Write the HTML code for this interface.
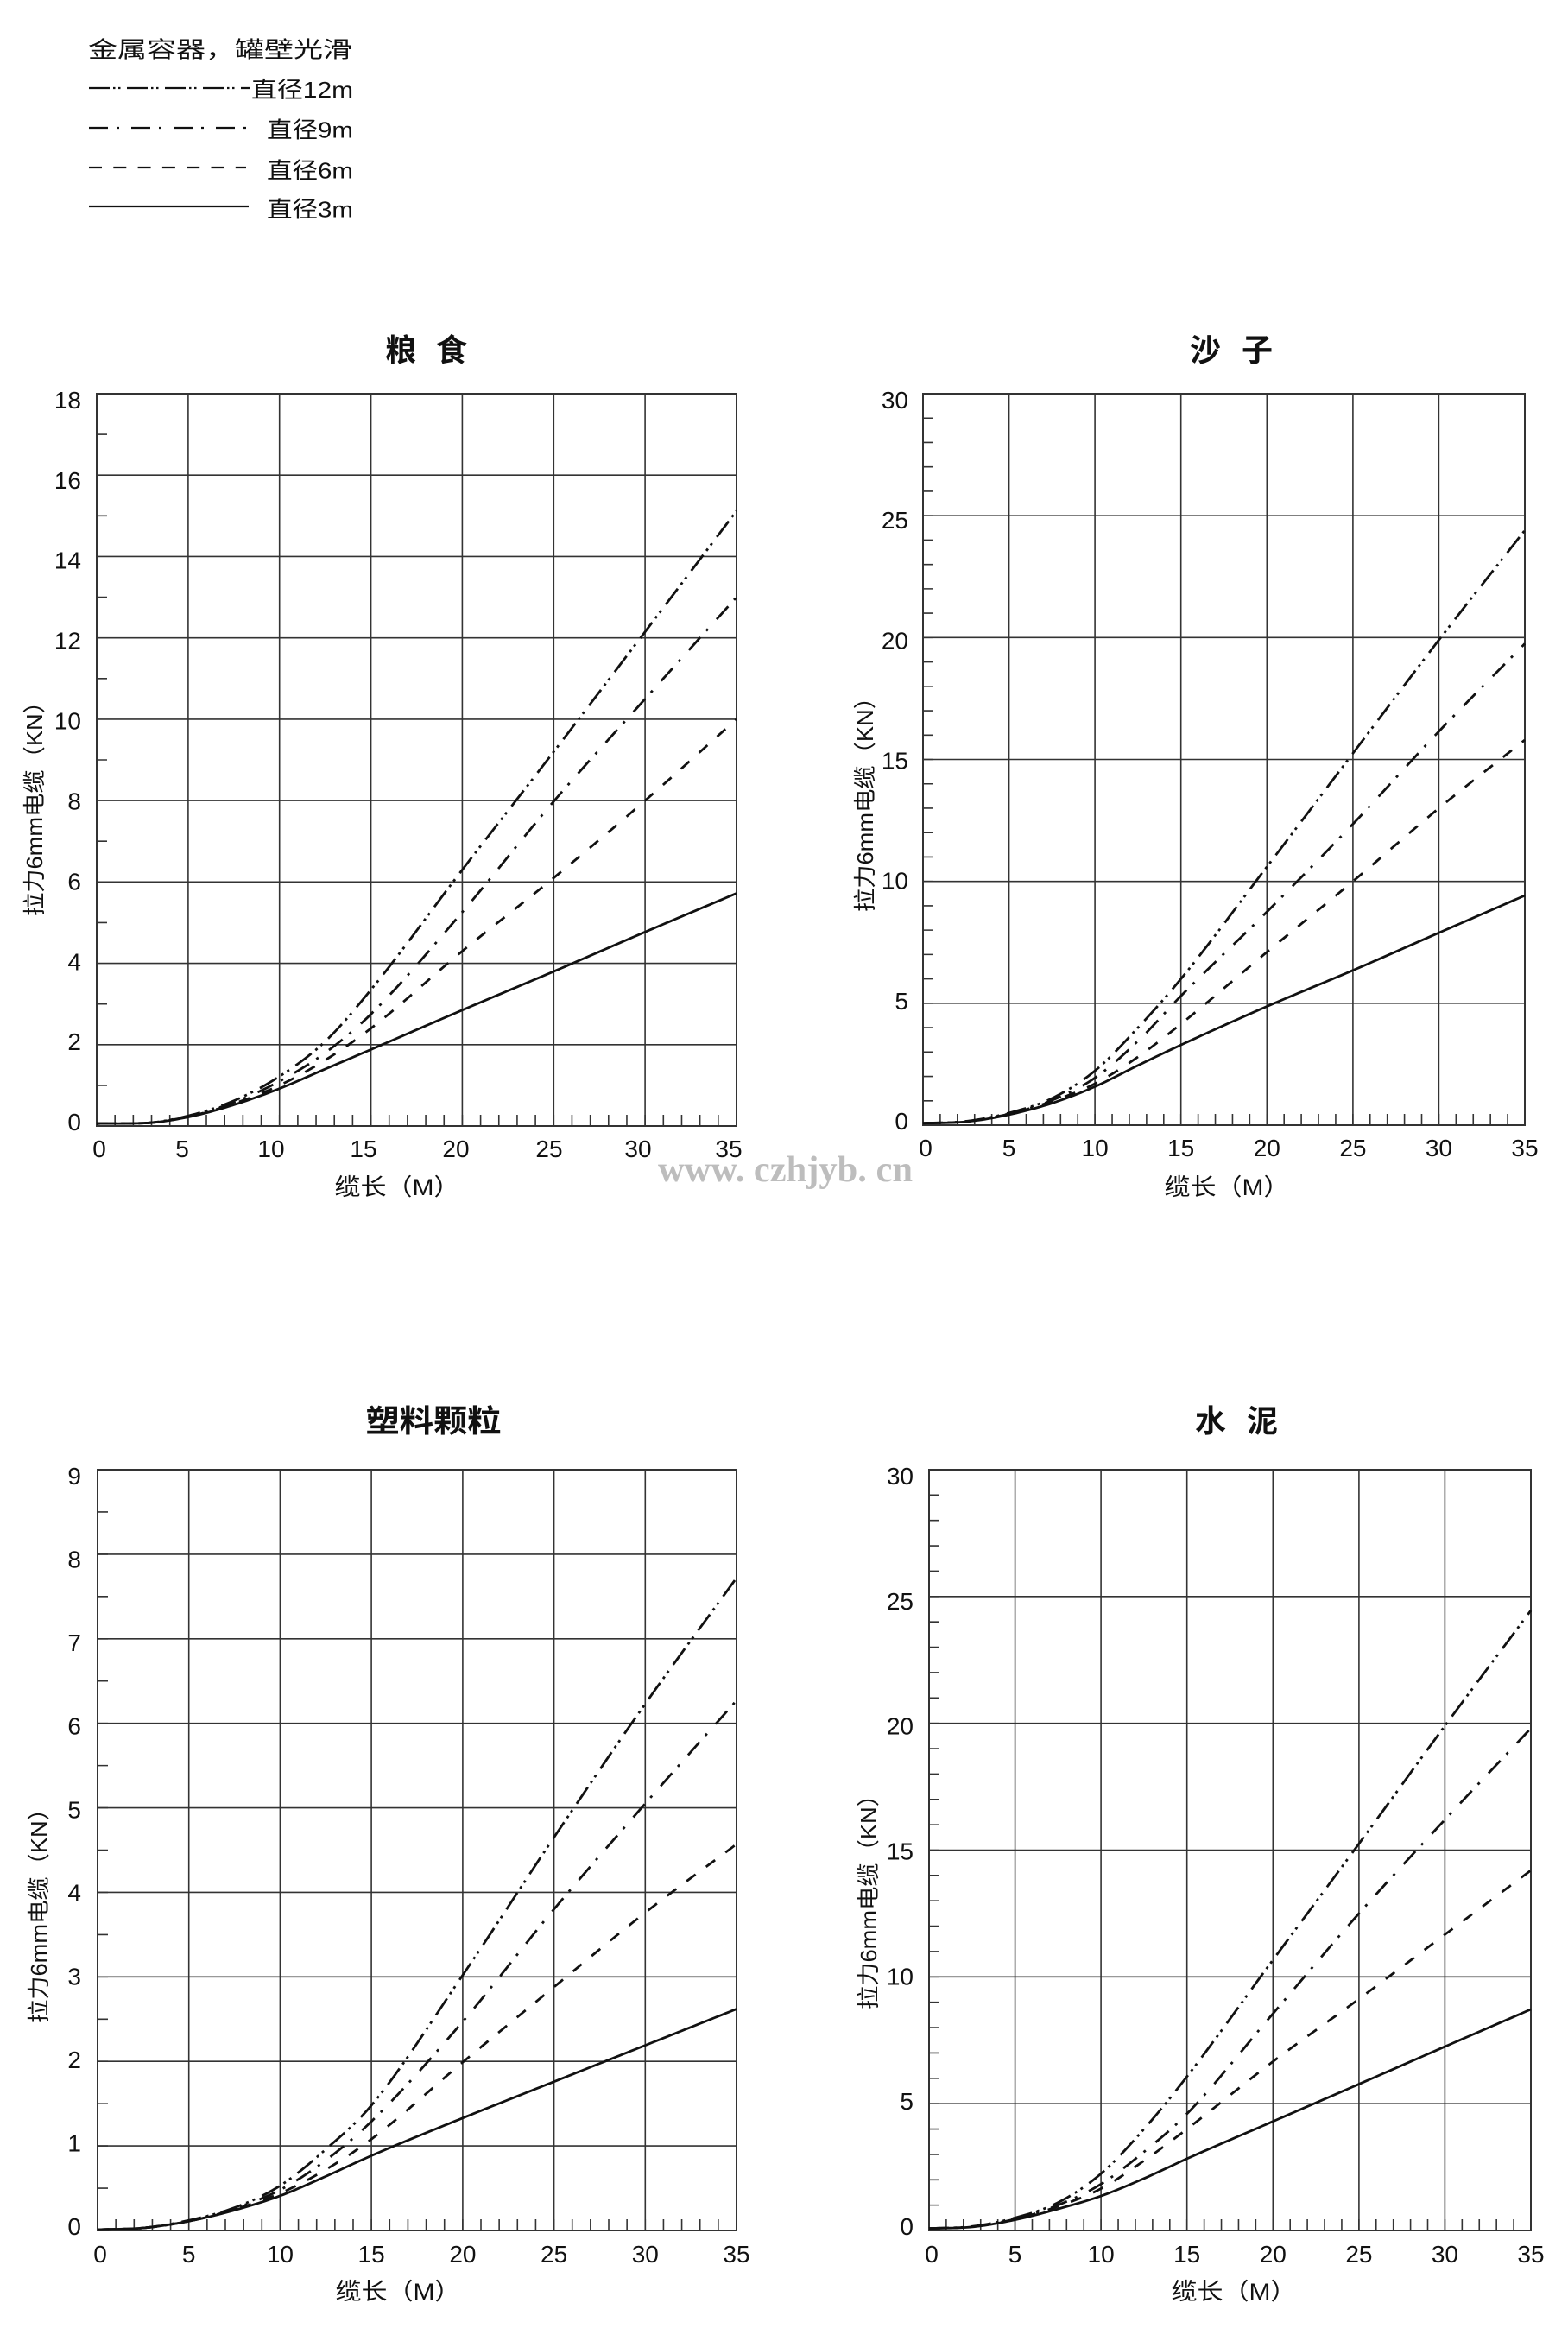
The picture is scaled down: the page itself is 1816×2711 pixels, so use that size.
<!DOCTYPE html>
<html><head><meta charset="utf-8">
<style>
html,body{margin:0;padding:0;background:#fff;}
svg{display:block;}
text{font-family:"Liberation Sans","Noto Sans CJK SC",sans-serif;fill:#111;}
.yl{font-size:28px;text-anchor:end;}
.xl{font-size:28px;text-anchor:middle;}
</style></head>
<body>
<svg id="s" width="1816" height="2711" viewBox="0 0 1816 2711" xmlns="http://www.w3.org/2000/svg">
<rect width="1816" height="2711" fill="#fff"/>

<!-- Legend -->
<text x="102" y="66.5" font-size="26" textLength="306" lengthAdjust="spacingAndGlyphs">金属容器，罐壁光滑</text>
<g stroke="#111" stroke-width="2.3" fill="none">
<path d="M103 102H290" stroke-dasharray="24 4 2.5 3.5 2.5 7.5"/>
<path d="M103 148H285" stroke-dasharray="22 10 3 14"/>
<path d="M103 194H285" stroke-dasharray="15 13.3"/>
<path d="M103 239H288"/>
</g>
<text x="291" y="113" font-size="26" textLength="118" lengthAdjust="spacingAndGlyphs">直径12m</text>
<text x="309" y="159.5" font-size="26" textLength="100" lengthAdjust="spacingAndGlyphs">直径9m</text>
<text x="309" y="206.5" font-size="26" textLength="100" lengthAdjust="spacingAndGlyphs">直径6m</text>
<text x="309" y="251.5" font-size="26" textLength="100" lengthAdjust="spacingAndGlyphs">直径3m</text>

<!-- Titles -->
<text x="464" y="418" font-size="36" font-weight="bold" text-anchor="middle">粮</text>
<text x="523" y="418" font-size="36" font-weight="bold" text-anchor="middle">食</text>
<text x="1396" y="418" font-size="36" font-weight="bold" text-anchor="middle">沙</text>
<text x="1456" y="418" font-size="36" font-weight="bold" text-anchor="middle">子</text>
<text x="502" y="1658" font-size="36" font-weight="bold" text-anchor="middle" textLength="157" lengthAdjust="spacingAndGlyphs">塑料颗粒</text>
<text x="1402" y="1658" font-size="36" font-weight="bold" text-anchor="middle">水</text>
<text x="1462" y="1658" font-size="36" font-weight="bold" text-anchor="middle">泥</text>

<!-- Y axis labels -->
<text transform="translate(40,930) rotate(-90)" x="0" y="9" font-size="26" text-anchor="middle" textLength="262" lengthAdjust="spacingAndGlyphs">拉力6mm电缆（KN）</text>
<text transform="translate(1002,925) rotate(-90)" x="0" y="9" font-size="26" text-anchor="middle" textLength="262" lengthAdjust="spacingAndGlyphs">拉力6mm电缆（KN）</text>
<text transform="translate(45,2212) rotate(-90)" x="0" y="9" font-size="26" text-anchor="middle" textLength="262" lengthAdjust="spacingAndGlyphs">拉力6mm电缆（KN）</text>
<text transform="translate(1006,2196) rotate(-90)" x="0" y="9" font-size="26" text-anchor="middle" textLength="262" lengthAdjust="spacingAndGlyphs">拉力6mm电缆（KN）</text>

<!-- X axis titles -->
<text x="460" y="1384" font-size="27" text-anchor="middle" textLength="145" lengthAdjust="spacingAndGlyphs">缆长（M）</text>
<text x="1421" y="1384" font-size="27" text-anchor="middle" textLength="145" lengthAdjust="spacingAndGlyphs">缆长（M）</text>
<text x="461" y="2663" font-size="27" text-anchor="middle" textLength="145" lengthAdjust="spacingAndGlyphs">缆长（M）</text>
<text x="1429" y="2663" font-size="27" text-anchor="middle" textLength="145" lengthAdjust="spacingAndGlyphs">缆长（M）</text>

<!-- Watermark -->
<text x="762" y="1368" font-size="42" font-weight="bold" textLength="295" lengthAdjust="spacingAndGlyphs" style="font-family:'Liberation Serif',serif;fill:#bdbdbd;">www. czhjyb. cn</text>

<!-- ========== Chart 1 ========== -->
<g stroke="#333" stroke-width="1.6" fill="none">
<path d="M217.9 456V1304M323.7 456V1304M429.6 456V1304M535.4 456V1304M641.3 456V1304M747.1 456V1304"/>
<path d="M112 1209.8H853M112 1115.6H853M112 1021.3H853M112 927.1H853M112 832.9H853M112 738.7H853M112 644.4H853M112 550.2H853"/>
<rect x="112" y="456" width="741" height="848" stroke-width="2"/>
<path d="M112 1297.5H853" stroke-width="13" stroke-dasharray="1.6 19.571" stroke-dashoffset="0.8"/>
<path d="M118 1304V456" stroke-width="12" stroke-dasharray="1.6 92.622" stroke-dashoffset="47.911"/>
</g>
<text class="yl" x="94" y="1309">0</text>
<text class="yl" x="94" y="1216">2</text>
<text class="yl" x="94" y="1123.3">4</text>
<text class="yl" x="94" y="1030.3">6</text>
<text class="yl" x="94" y="937.4">8</text>
<text class="yl" x="94" y="844.6">10</text>
<text class="yl" x="94" y="751.7">12</text>
<text class="yl" x="94" y="658.7">14</text>
<text class="yl" x="94" y="565.9">16</text>
<text class="yl" x="94" y="473">18</text>
<text class="xl" x="115" y="1340">0</text>
<text class="xl" x="211" y="1340">5</text>
<text class="xl" x="314" y="1340">10</text>
<text class="xl" x="421" y="1340">15</text>
<text class="xl" x="528" y="1340">20</text>
<text class="xl" x="636" y="1340">25</text>
<text class="xl" x="739" y="1340">30</text>
<text class="xl" x="844" y="1340">35</text>

<!-- ========== Chart 2 ========== -->
<g stroke="#333" stroke-width="1.6" fill="none">
<path d="M1168.6 456V1303M1268.1 456V1303M1367.7 456V1303M1467.3 456V1303M1566.9 456V1303M1666.4 456V1303"/>
<path d="M1069 1161.8H1766M1069 1020.7H1766M1069 879.5H1766M1069 738.3H1766M1069 597.2H1766"/>
<rect x="1069" y="456" width="697" height="847" stroke-width="2"/>
<path d="M1069 1296.5H1766" stroke-width="13" stroke-dasharray="1.6 18.314" stroke-dashoffset="0.8"/>
<path d="M1075 1303V456" stroke-width="12" stroke-dasharray="1.6 26.633" stroke-dashoffset="0.8"/>
</g>
<text class="yl" x="1052" y="1308">0</text>
<text class="yl" x="1052" y="1168.8">5</text>
<text class="yl" x="1052" y="1029.7">10</text>
<text class="yl" x="1052" y="890.5">15</text>
<text class="yl" x="1052" y="751.3">20</text>
<text class="yl" x="1052" y="612.2">25</text>
<text class="yl" x="1052" y="473">30</text>
<text class="xl" x="1072" y="1339">0</text>
<text class="xl" x="1168.6" y="1339">5</text>
<text class="xl" x="1268.1" y="1339">10</text>
<text class="xl" x="1367.7" y="1339">15</text>
<text class="xl" x="1467.3" y="1339">20</text>
<text class="xl" x="1566.9" y="1339">25</text>
<text class="xl" x="1666.4" y="1339">30</text>
<text class="xl" x="1766" y="1339">35</text>

<!-- ========== Chart 3 ========== -->
<g stroke="#333" stroke-width="1.6" fill="none">
<path d="M218.7 1702V2583M324.4 1702V2583M430.1 1702V2583M535.9 1702V2583M641.6 1702V2583M747.3 1702V2583"/>
<path d="M113 2485.1H853M113 2387.2H853M113 2289.3H853M113 2191.4H853M113 2093.6H853M113 1995.7H853M113 1897.8H853M113 1799.9H853"/>
<rect x="113" y="1702" width="740" height="881" stroke-width="2"/>
<path d="M113 2576.5H853" stroke-width="13" stroke-dasharray="1.6 19.543" stroke-dashoffset="0.8"/>
<path d="M119 2583V1702" stroke-width="12" stroke-dasharray="1.6 47.344" stroke-dashoffset="0.8"/>
</g>
<text class="yl" x="94" y="2588">0</text>
<text class="yl" x="94" y="2491.4">1</text>
<text class="yl" x="94" y="2394.9">2</text>
<text class="yl" x="94" y="2298.3">3</text>
<text class="yl" x="94" y="2201.7">4</text>
<text class="yl" x="94" y="2105.3">5</text>
<text class="yl" x="94" y="2008.7">6</text>
<text class="yl" x="94" y="1912.1">7</text>
<text class="yl" x="94" y="1815.6">8</text>
<text class="yl" x="94" y="1719">9</text>
<text class="xl" x="116" y="2620">0</text>
<text class="xl" x="218.7" y="2620">5</text>
<text class="xl" x="324.4" y="2620">10</text>
<text class="xl" x="430.1" y="2620">15</text>
<text class="xl" x="535.9" y="2620">20</text>
<text class="xl" x="641.6" y="2620">25</text>
<text class="xl" x="747.3" y="2620">30</text>
<text class="xl" x="853" y="2620">35</text>

<!-- ========== Chart 4 ========== -->
<g stroke="#333" stroke-width="1.6" fill="none">
<path d="M1175.6 1702V2583M1275.1 1702V2583M1374.7 1702V2583M1474.3 1702V2583M1573.9 1702V2583M1673.4 1702V2583"/>
<path d="M1076 2436.2H1773M1076 2289.3H1773M1076 2142.5H1773M1076 1995.7H1773M1076 1848.8H1773"/>
<rect x="1076" y="1702" width="697" height="881" stroke-width="2"/>
<path d="M1076 2576.5H1773" stroke-width="13" stroke-dasharray="1.6 18.314" stroke-dashoffset="0.8"/>
<path d="M1082 2583V1702" stroke-width="12" stroke-dasharray="1.6 27.767" stroke-dashoffset="0.8"/>
</g>
<text class="yl" x="1058" y="2588">0</text>
<text class="yl" x="1058" y="2443.2">5</text>
<text class="yl" x="1058" y="2298.3">10</text>
<text class="yl" x="1058" y="2153.5">15</text>
<text class="yl" x="1058" y="2008.7">20</text>
<text class="yl" x="1058" y="1863.8">25</text>
<text class="yl" x="1058" y="1719">30</text>
<text class="xl" x="1079" y="2620">0</text>
<text class="xl" x="1175.6" y="2620">5</text>
<text class="xl" x="1275.1" y="2620">10</text>
<text class="xl" x="1374.7" y="2620">15</text>
<text class="xl" x="1474.3" y="2620">20</text>
<text class="xl" x="1573.9" y="2620">25</text>
<text class="xl" x="1673.4" y="2620">30</text>
<text class="xl" x="1773" y="2620">35</text>

<g id="curves" fill="none" stroke="#111" stroke-width="2.8"></g>
</svg>
<script>
(function(){
var XS=[0,2.5,5,7.5,10,12.5,15,20,25,30,35];
var DASH={d3:null,d6:"13 15",d9:"20 10 3 15",d12:"23 6 3 5 3 9"};
var charts=[
 {L:112,R:853,T:456,B:1304,ymax:18,c:{
  d3:[0.06,0.07,0.22,0.52,0.92,1.40,1.88,2.85,3.8,4.77,5.72],
  d6:[0.06,0.07,0.23,0.55,1.0,1.62,2.4,4.3,6.1,8.0,10.0],
  d9:[0.06,0.07,0.24,0.58,1.1,1.8,2.75,5.26,7.98,10.5,13.0],
  d12:[0.06,0.07,0.25,0.62,1.22,2.08,3.35,6.3,9.2,12.15,15.12]}},
 {L:1069,R:1766,T:456,B:1303,ymax:30,c:{
  d3:[0.08,0.14,0.43,0.9,1.58,2.45,3.29,4.87,6.35,7.89,9.42],
  d6:[0.08,0.15,0.46,0.98,1.7,2.8,4.15,7.1,10.0,13.0,15.8],
  d9:[0.08,0.15,0.47,1.02,1.94,3.45,5.3,8.75,12.35,16.15,19.75],
  d12:[0.08,0.16,0.5,1.1,2.23,4.0,6.0,10.6,15.25,19.9,24.4]}},
 {L:113,R:853,T:1702,B:2583,ymax:9,c:{
  d3:[0.01,0.03,0.11,0.24,0.41,0.64,0.885,1.33,1.76,2.19,2.62],
  d6:[0.01,0.03,0.11,0.25,0.44,0.72,1.08,1.99,2.88,3.76,4.57],
  d9:[0.01,0.03,0.11,0.26,0.48,0.83,1.29,2.47,3.8,5.05,6.27],
  d12:[0.01,0.03,0.12,0.27,0.53,0.96,1.48,3.02,4.65,6.23,7.72]}},
 {L:1076,R:1773,T:1702,B:2583,ymax:30,c:{
  d3:[0.08,0.14,0.42,0.85,1.36,2.05,2.83,4.3,5.77,7.25,8.72],
  d6:[0.08,0.15,0.45,0.95,1.65,2.75,4.0,6.66,9.13,11.67,14.2],
  d9:[0.08,0.15,0.46,1.0,1.83,3.1,4.6,8.55,12.5,16.2,19.8],
  d12:[0.08,0.16,0.5,1.1,2.24,4.0,6.07,10.67,15.25,19.9,24.45]}}
];
function mono(xs,ys){
 var n=xs.length,d=[],m=new Array(n),i;
 for(i=0;i<n-1;i++)d.push((ys[i+1]-ys[i])/(xs[i+1]-xs[i]));
 m[0]=d[0];m[n-1]=d[n-2];
 for(i=1;i<n-1;i++){m[i]=(d[i-1]*d[i]<=0)?0:(d[i-1]+d[i])/2;}
 for(i=0;i<n-1;i++){
  if(d[i]===0){m[i]=0;m[i+1]=0;continue;}
  var a=m[i]/d[i],b=m[i+1]/d[i],s=a*a+b*b;
  if(s>9){var t=3/Math.sqrt(s);m[i]=t*a*d[i];m[i+1]=t*b*d[i];}
 }
 return function(x){
  var k=0;while(k<n-2&&x>xs[k+1])k++;
  var h=xs[k+1]-xs[k],t=(x-xs[k])/h,t2=t*t,t3=t2*t;
  return (2*t3-3*t2+1)*ys[k]+(t3-2*t2+t)*h*m[k]+(-2*t3+3*t2)*ys[k+1]+(t3-t2)*h*m[k+1];
 };
}
var g=document.getElementById('curves');
var NS="http://www.w3.org/2000/svg";
charts.forEach(function(c){
 var sx=(c.R-c.L)/35,sy=(c.B-c.T)/c.ymax;
 ["d3","d6","d9","d12"].forEach(function(k){
  var f=mono(XS,c.c[k]),pts=[];
  for(var x=0;x<=35.0001;x+=0.2){
   var y=Math.max(0,f(x));
   pts.push((c.L+x*sx).toFixed(2)+" "+(c.B-y*sy).toFixed(2));
  }
  var p=document.createElementNS(NS,"path");
  p.setAttribute("d","M"+pts.join("L"));
  if(DASH[k])p.setAttribute("stroke-dasharray",DASH[k]);
  p.setAttribute("stroke-linejoin","round");
  g.appendChild(p);
 });
});
})();
</script>
</body></html>
